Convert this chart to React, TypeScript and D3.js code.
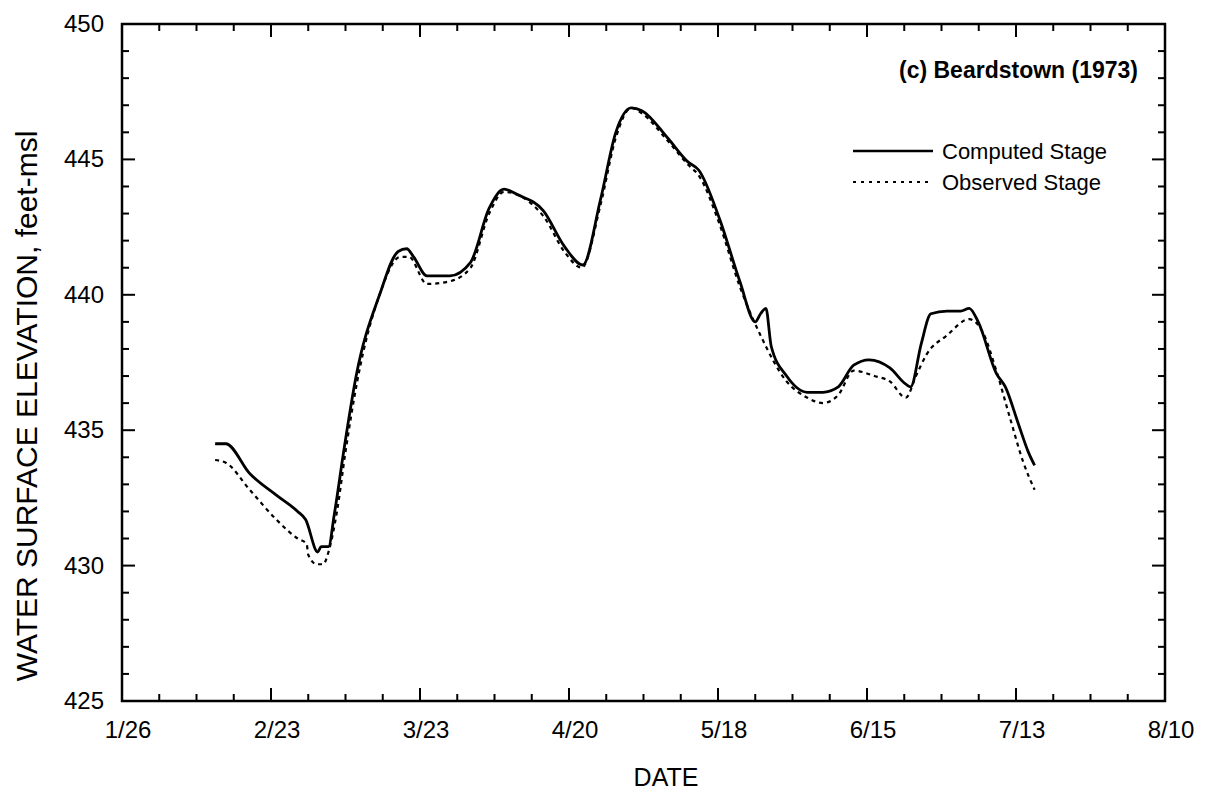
import { useEffect, useRef } from "react";
import * as d3 from "d3";

// days counted from 1/26/1973
const tickLabels = ["1/26", "2/23", "3/23", "4/20", "5/18", "6/15", "7/13", "8/10"];
const yTicks = [425, 430, 435, 440, 445, 450];

const computedDays = [17.5, 19.5, 24, 29, 33, 34.5, 36.8, 37.4, 38.8, 39.9, 41.8, 44, 48.4, 51.9, 53.5, 54.8, 57.3, 61.6, 65.5, 69, 71.8, 74.3, 79.2, 83.1, 86.6, 89.9, 92.8, 95.7, 97.7, 102.5, 106.4, 108.4, 112.3, 116.1, 119, 120, 121, 122, 124.9, 128.8, 131.7, 134.6, 137.5, 140.4, 144.3, 147.3, 148.2, 150.2, 152, 155, 157.6, 159.2, 160.9, 164.3, 166, 168.5, 170.3, 171.5];
const computedStage = [434.5, 434.5, 433.4, 432.6, 432.0, 431.7, 430.5, 430.7, 430.7, 431.9, 434.4, 437.0, 440, 441.6, 441.7, 441.4, 440.7, 440.7, 441.2, 443.2, 443.9, 443.7, 443.1, 441.8, 441.1, 443.5, 446, 446.9, 446.8, 445.8, 444.9, 444.6, 442.8, 440.5, 439.0, 439.3, 439.5, 438.1, 437, 436.4, 436.4, 436.6, 437.4, 437.6, 437.3, 436.7, 436.6, 438.2, 439.3, 439.4, 439.4, 439.5, 439.0, 437.1, 436.6, 435.2, 434.2, 433.7];

const observedDays = [17.5, 19.5, 24, 29, 33, 34.7, 35, 36.6, 37.8, 38.8, 40.4, 42, 44.2, 48.4, 52.3, 53.9, 57.3, 61.6, 65.5, 69, 71.8, 79.2, 83.1, 86.4, 89.9, 92.8, 95.7, 97.7, 102.5, 106.4, 108.4, 112.3, 116.1, 120, 124.9, 128.8, 131.7, 134.6, 137.5, 141.4, 144.3, 147.3, 149.2, 151.2, 155, 159.2, 161.8, 164.3, 166.8, 169.4, 171.5];
const observedStage = [433.9, 433.8, 432.8, 431.7, 431.0, 430.8, 430.4, 430.05, 430.05, 430.5, 432.0, 434.2, 436.8, 440, 441.4, 441.4, 440.4, 440.5, 441.0, 443.0, 443.8, 442.9, 441.6, 441.0, 443.3, 445.8, 446.9, 446.7, 445.7, 444.8, 444.4, 442.6, 440.3, 438.5, 436.8, 436.2, 436.0, 436.3, 437.2, 437.0, 436.8, 436.2, 437.0, 437.8, 438.5, 439.1, 438.6, 437.2, 435.5, 433.8, 432.8];

export default function App() {
  const ref = useRef<SVGSVGElement>(null);

  useEffect(() => {
    if (!ref.current) return;
    const svg = d3.select(ref.current);
    svg.selectAll("*").remove();

    const left = 122, right = 1165, top = 24, bottom = 701;
    const x = d3.scaleLinear().domain([0, 196]).range([left, right]);
    const y = d3.scaleLinear().domain([425, 450]).range([bottom, top]);
    const font = "'Liberation Sans', Arial, sans-serif";

    // ticks, inward on all four sides
    const ticks = svg.append("g").attr("stroke", "#000").attr("stroke-width", 2);
    d3.range(0, 197, 7).forEach((d) => {
      const len = d % 28 === 0 ? 13 : 7;
      ticks.append("line").attr("x1", x(d)).attr("x2", x(d)).attr("y1", bottom).attr("y2", bottom - len);
      ticks.append("line").attr("x1", x(d)).attr("x2", x(d)).attr("y1", top).attr("y2", top + len);
    });
    d3.range(425, 451, 1).forEach((v) => {
      const len = v % 5 === 0 ? 13 : 7;
      ticks.append("line").attr("x1", left).attr("x2", left + len).attr("y1", y(v)).attr("y2", y(v));
      ticks.append("line").attr("x1", right).attr("x2", right - len).attr("y1", y(v)).attr("y2", y(v));
    });

    // frame
    svg.append("rect")
      .attr("x", left).attr("y", top)
      .attr("width", right - left).attr("height", bottom - top)
      .attr("fill", "none").attr("stroke", "#000").attr("stroke-width", 2.5);

    // tick labels
    svg.append("g").selectAll("text").data(tickLabels).join("text")
      .attr("x", (_, i) => x(i * 28) + 6).attr("y", bottom + 37)
      .attr("text-anchor", "middle").attr("font-family", font).attr("font-size", 24)
      .text((d) => d);
    svg.append("g").selectAll("text").data(yTicks).join("text")
      .attr("x", left - 18).attr("y", (d) => y(d) + 8)
      .attr("text-anchor", "end").attr("font-family", font).attr("font-size", 24)
      .text((d) => d);

    svg.append("text")
      .attr("x", 666).attr("y", 786)
      .attr("text-anchor", "middle").attr("font-family", font).attr("font-size", 25)
      .text("DATE");
    svg.append("text")
      .attr("transform", "translate(37,406) rotate(-90)")
      .attr("text-anchor", "middle").attr("font-family", font).attr("font-size", 30)
      .text("WATER SURFACE ELEVATION, feet-msl");

    // title + legend
    svg.append("text")
      .attr("x", 1138).attr("y", 78)
      .attr("text-anchor", "end").attr("font-family", font).attr("font-size", 23).attr("font-weight", "bold")
      .text("(c) Beardstown (1973)");
    svg.append("line").attr("x1", 853).attr("x2", 933).attr("y1", 151).attr("y2", 151)
      .attr("stroke", "#000").attr("stroke-width", 2.5);
    svg.append("line").attr("x1", 853).attr("x2", 933).attr("y1", 182).attr("y2", 182)
      .attr("stroke", "#000").attr("stroke-width", 2).attr("stroke-dasharray", "3,5");
    svg.append("text").attr("x", 942).attr("y", 159)
      .attr("font-family", font).attr("font-size", 22).text("Computed Stage");
    svg.append("text").attr("x", 942).attr("y", 190)
      .attr("font-family", font).attr("font-size", 22).text("Observed Stage");

    // series
    const line = d3.line<[number, number]>()
      .x((d) => x(d[0])).y((d) => y(d[1]))
      .curve(d3.curveMonotoneX);

    svg.append("path")
      .datum(d3.zip(observedDays, observedStage) as [number, number][])
      .attr("fill", "none").attr("stroke", "#000").attr("stroke-width", 2.2)
      .attr("stroke-dasharray", "4,4")
      .attr("d", line);

    svg.append("path")
      .datum(d3.zip(computedDays, computedStage) as [number, number][])
      .attr("fill", "none").attr("stroke", "#000").attr("stroke-width", 2.8)
      .attr("stroke-linejoin", "round")
      .attr("d", line);
  }, []);

  return (
    <svg
      ref={ref}
      width={1209}
      height={793}
      style={{ position: "absolute", left: 0, top: 0, background: "#fff" }}
    />
  );
}
